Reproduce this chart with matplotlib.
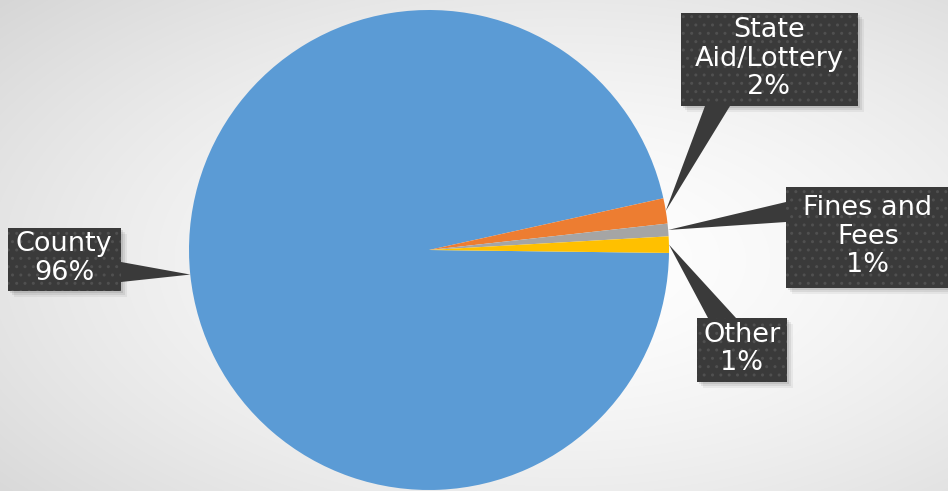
import numpy as np
import matplotlib
matplotlib.use("Agg")
import matplotlib.pyplot as plt
from matplotlib.patches import Rectangle, Polygon

categories = ["County", "State\nAid/Lottery", "Fines and\nFees", "Other"]
values = [96.3, 1.7, 0.85, 1.1]
colors = ["#5B9BD5", "#ED7D31", "#A5A5A5", "#FFC000"]

W, H = 948, 491
fig = plt.figure(figsize=(W / 100, H / 100), dpi=100)

# background radial gradient
bg = fig.add_axes([0, 0, 1, 1])
yy, xx = np.mgrid[0:H, 0:W]
r = np.sqrt(((xx - 560) / W) ** 2 + ((yy - 260) / H) ** 2)
r = r / r.max()
img = 1.0 - 0.16 * r ** 1.5
bg.imshow(np.dstack([img, img, img]), extent=[0, W, 0, H], origin="upper", aspect="auto")
bg.axis("off")

ax = fig.add_axes([0, 0, 1, 1])
cx, cy, R = 429, H - 250, 240
total = sum(values)
wedges, _ = ax.pie(values, colors=colors, startangle=-0.7, counterclock=False,
                   center=(cx, cy), radius=R, frame=True,
                   wedgeprops=dict(linewidth=0))
ax.set_xlim(0, W)
ax.set_ylim(0, H)
ax.set_aspect("equal")
ax.axis("off")

# box layouts in pixel coords (left, top, right, bottom) and pointer base points
boxes = [
    dict(box=(8, 228, 121, 291), base=[(121, 262), (121, 282)], tx=64),
    dict(box=(681, 13, 858, 106), base=[(705, 106), (730, 106)], tx=769),
    dict(box=(786, 187, 960, 288), base=[(786, 202), (786, 222)], tx=868),
    dict(box=(697, 318, 787, 382), base=[(708, 318), (736, 318)], tx=742),
]

boxcol = "#3a3a3a"
for w, cat, val, b in zip(wedges, categories, values, boxes):
    mid = np.deg2rad((w.theta1 + w.theta2) / 2)
    tip = (cx + R * np.cos(mid), cy + R * np.sin(mid))
    l, t, rr, bt = b["box"]
    x0, y0 = l, H - bt
    bw, bh = rr - l, bt - t
    # shadow
    for k, a in [(6, 0.05), (4, 0.07), (2, 0.09)]:
        ax.add_patch(Rectangle((x0 + k, y0 - k), bw, bh, facecolor="black",
                               alpha=a, linewidth=0, zorder=3))
    base = [(px, H - py) for px, py in b["base"]]
    tri = Polygon([base[0], tip, base[1]], closed=True, facecolor=boxcol,
                  edgecolor="none", zorder=4)
    ax.add_patch(tri)
    ax.add_patch(Rectangle((x0, y0), bw, bh, facecolor=boxcol, edgecolor="none", zorder=4))
    with plt.rc_context({"hatch.linewidth": 1.0, "hatch.color": "#505050"}):
        ax.add_patch(Rectangle((x0, y0), bw, bh, facecolor="none", edgecolor="#505050",
                               hatch="..", linewidth=0, zorder=5))
    pct = f"{round(val / total * 100):d}%"
    ax.text(b["tx"], H - (t + bt) / 2 + 1, f"{cat}\n{pct}", ha="center", va="center",
            color="white", fontsize=19.5, family="DejaVu Sans", linespacing=1.12,
            zorder=6)

fig.savefig("out.png", dpi=100)
